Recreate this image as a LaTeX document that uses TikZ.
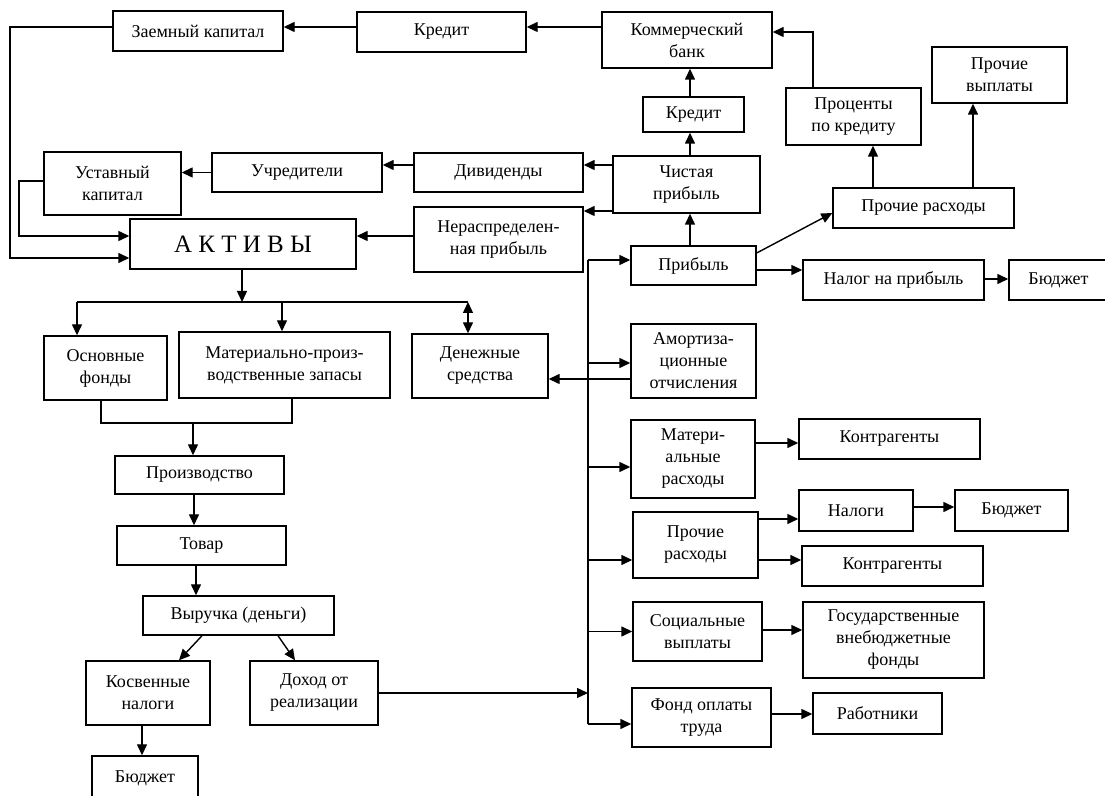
\documentclass[tikz,border=0pt]{standalone}
\usepackage{fontspec}
\setmainfont{Liberation Serif}
\usetikzlibrary{arrows.meta}
\tikzset{%
  >={Triangle[width=5pt,length=5.5pt]},
  % Specifications for style of nodes:
     box/.style = {rectangle, draw=black, line width=0.7pt, inner sep=1pt,
                   align=center, font=\fontsize{9}{11}\selectfont},
  bigbox/.style = {box, font=\fontsize{12.5}{14}\selectfont},
}
\begin{document}
\begin{tikzpicture}[x=0.5pt, y=-0.5pt, line width=0.7pt]
  \path[use as bounding box, fill=white] (0,0) rectangle (1105,796);
  % Specification of nodes (position, size)
  \node (zaem)     [box, minimum width=85pt,   minimum height=20pt]   at (198,31)      {Заемный капитал};
  \node (kredTop)  [box, minimum width=84.5pt, minimum height=20pt]   at (441.5,32)    {Кредит};
  \node (kbank)    [box, minimum width=85pt,   minimum height=28pt]   at (687,40)      {Коммерческий\\банк};
  \node (kredMid)  [box, minimum width=50.5pt, minimum height=17.5pt] at (693.5,114.5) {Кредит};
  \node (proc)     [box, minimum width=67.5pt, minimum height=28.5pt] at (853.5,116.5) {Проценты\\по кредиту};
  \node (prVypl)   [box, minimum width=67.5pt, minimum height=28pt]   at (999.5,75)    {Прочие\\выплаты};
  \node (prRasTop) [box, minimum width=90.5pt, minimum height=20pt]   at (923.5,208)   {Прочие расходы};
  \node (chist)    [box, minimum width=73.5pt, minimum height=28.5pt] at (686.5,184.5) {Чистая\\прибыль};
  \node (divid)    [box, minimum width=84.5pt, minimum height=19.5pt] at (498.5,172.5) {Дивиденды};
  \node (uchr)     [box, minimum width=85pt,   minimum height=19.5pt] at (297,172.5)   {Учредители};
  \node (ustav)    [box, minimum width=68.5pt, minimum height=31.5pt] at (112.5,183.5) {Уставный\\капитал};
  \node (neraspr)  [box, minimum width=84.5pt, minimum height=32.5pt] at (498.5,239.5) {Нераспределен-\\ная прибыль};
  \node (aktiv)    [bigbox, minimum width=113pt, minimum height=25pt] at (243,244)     {А К Т И В Ы};
  \node (prib)     [box, minimum width=62.5pt, minimum height=19.5pt] at (693.5,265.5) {Прибыль};
  \node (nalPrib)  [box, minimum width=90.5pt, minimum height=20pt]   at (893.5,280)   {Налог на прибыль};
  \node (budzhA)   [box, minimum width=49.5pt, minimum height=20pt]   at (1058.5,280)  {Бюджет};
  \node (osnov)    [box, minimum width=61.5pt, minimum height=32pt]   at (105.5,368)   {Основные\\фонды};
  \node (mat)      [box, minimum width=105.5pt,minimum height=33pt]   at (284.5,365)   {Материально-произ-\\водственные запасы};
  \node (den)      [box, minimum width=68pt,   minimum height=32pt]   at (480,366)     {Денежные\\средства};
  \node (amort)    [box, minimum width=62.5pt, minimum height=37pt]   at (693.5,361)   {Амортиза-\\ционные\\отчисления};
  \node (proizv)   [box, minimum width=84.5pt, minimum height=19pt]   at (199.5,475)   {Производство};
  \node (tovar)    [box, minimum width=84.5pt, minimum height=19.5pt] at (201.5,545.5) {Товар};
  \node (vyr)      [box, minimum width=95.5pt, minimum height=19.5pt] at (238.5,615.5) {Выручка (деньги)};
  \node (kosv)     [box, minimum width=62pt,   minimum height=32pt]   at (148,693)     {Косвенные\\налоги};
  \node (dokhod)   [box, minimum width=64pt,   minimum height=32pt]   at (314,693)     {Доход от\\реализации};
  \node (budzhB)   [box, minimum width=53pt,   minimum height=22pt]   at (145,778)     {Бюджет};
  \node (matRas)   [box, minimum width=62pt,   minimum height=39pt]   at (693,459)     {Матери-\\альные\\расходы};
  \node (prRasMid) [box, minimum width=62.5pt, minimum height=33pt]   at (695.5,545)   {Прочие\\расходы};
  \node (soc)      [box, minimum width=64.5pt, minimum height=29.5pt] at (697.5,631.5) {Социальные\\выплаты};
  \node (fond)     [box, minimum width=69.5pt, minimum height=29.5pt] at (701.5,717.5) {Фонд оплаты\\труда};
  \node (kontrA)   [box, minimum width=90.5pt, minimum height=20pt]   at (889.5,439)   {Контрагенты};
  \node (nalogi)   [box, minimum width=57pt,   minimum height=20.5pt] at (856,510.5)   {Налоги};
  \node (budzhC)   [box, minimum width=56.5pt, minimum height=20.5pt] at (1011.5,510.5){Бюджет};
  \node (kontrB)   [box, minimum width=90.5pt, minimum height=20pt]   at (892.5,566)   {Контрагенты};
  \node (gos)      [box, minimum width=90.5pt, minimum height=38pt]   at (893.5,640)   {Государственные\\внебюджетные\\фонды};
  \node (rab)      [box, minimum width=64.5pt, minimum height=20.5pt] at (877.5,713.5) {Работники};
  % Helper points for bends and buses
  \coordinate (loopA)  at (10,258);
  \coordinate (loopB)  at (19,236);
  \coordinate (split)  at (242,302);
  \coordinate (join)   at (193,423);
  \coordinate (busTop) at (588,260);
  \coordinate (busBot) at (588,724);
  % Capital and profit flows
  \draw[->]      (kbank.west |- 0,27) -- (kredTop.east |- 0,27);
  \draw[->]    (kredTop.west |- 0,27) -- (zaem.east |- 0,27);
  \draw[->]       (zaem.west |- 0,27) -| (loopA) -- (aktiv.west |- loopA);
  \draw[->]     (ustav.west |- 0,181) -| (loopB) -- (aktiv.west |- loopB);
  \draw[->]               (uchr.west) -- (ustav.east |- uchr.west);
  \draw[->]    (divid.west |- 0,165) -- (uchr.east |- 0,165);
  \draw[->]    (chist.west |- 0,165) -- (divid.east |- 0,165);
  \draw[->]    (chist.west |- 0,211) -- (neraspr.east |- 0,211);
  \draw[->]  (neraspr.west |- 0,236) -- (aktiv.east |- 0,236);
  \draw[->]  (kredMid.north -| 690,0) -- (kbank.south -| 690,0);
  \draw[->]    (chist.north -| 690,0) -- (kredMid.south -| 690,0);
  \draw[->]     (prib.north -| 690,0) -- (chist.south -| 690,0);
  \draw[->]     (proc.north -| 813,0) |- (kbank.east |- 0,32);
  \draw[->] (prRasTop.north -| 873,0) -- (proc.south -| 873,0);
  \draw[->] (prRasTop.north -| 973,0) -- (prVypl.south -| 973,0);
  \draw[->]     (prib.east |- 0,253) -- (prRasTop.west |- 0,213);
  \draw[->]     (prib.east |- 0,270) -- (nalPrib.west |- 0,270);
  \draw[->]  (nalPrib.east |- 0,279) -- (budzhA.west |- 0,279);
  % Assets and production
  \draw[->]    (aktiv.south -| split) -- (split);
  \draw            (split -| 77,0) -- (split -| 468,0);
  \draw[->]        (split -| 77,0) -- (osnov.north -| 77,0);
  \draw[->]       (split -| 282,0) -- (mat.north -| 282,0);
  \draw[<->]      (split -| 468,0) -- (den.north -| 468,0);
  \draw     (osnov.south -| 101,0) |- (join) -| (mat.south -| 292,0);
  \draw[->]                 (join) -- (proizv.north -| join);
  \draw[->] (proizv.south -| 194,0) -- (tovar.north -| 194,0);
  \draw[->]  (tovar.south -| 196,0) -- (vyr.north -| 196,0);
  \draw[->]    (vyr.south -| 202,0) -- (kosv.north -| 179,0);
  \draw[->]    (vyr.south -| 278,0) -- (dokhod.north -| 295,0);
  \draw[->]   (kosv.south -| 142,0) -- (budzhB.north -| 142,0);
  % Distribution of revenue
  \draw                     (busTop) -- (busBot);
  \draw[->]            (dokhod.east) -- (busTop |- dokhod.east);
  \draw[->]                 (busTop) -- (prib.west |- busTop);
  \draw[->]       (busTop |- 0,363) -- (amort.west |- 0,363);
  \draw[->]       (busTop |- 0,467) -- (matRas.west |- 0,467);
  \draw[->]       (busTop |- 0,560) -- (prRasMid.west |- 0,560);
  \draw[->]     (busTop |- soc.west) -- (soc.west);
  \draw[->]                 (busBot) -- (fond.west |- busBot);
  \draw[->]    (amort.west |- 0,379) -- (den.east |- 0,379);
  \draw[->]   (matRas.east |- 0,443) -- (kontrA.west |- 0,443);
  \draw[->] (prRasMid.east |- 0,519) -- (nalogi.west |- 0,519);
  \draw[->] (prRasMid.east |- 0,560) -- (kontrB.west |- 0,560);
  \draw[->]   (nalogi.east |- 0,507) -- (budzhC.west |- 0,507);
  \draw[->]      (soc.east |- 0,630) -- (gos.west |- 0,630);
  \draw[->]     (fond.east |- 0,714) -- (rab.west |- 0,714);
\end{tikzpicture}
\end{document}
